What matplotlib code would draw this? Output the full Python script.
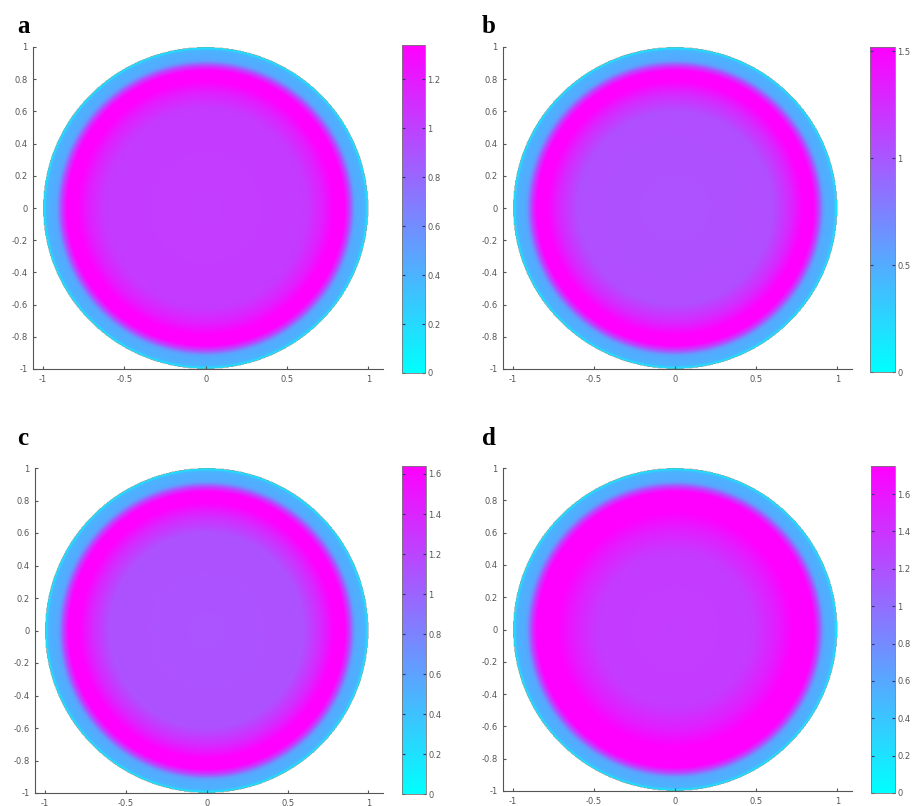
import numpy as np
import matplotlib
matplotlib.use("Agg")
import matplotlib.pyplot as plt

W, H = 917, 806

# ---- data ----
panel_labels = ["a", "b", "c", "d"]
# colour-scale maxima of each panel
vmax_vals = [1.34, 1.52, 1.64, 1.75]
# colorbar tick values of each panel
cbar_ticks = [
    [0, 0.2, 0.4, 0.6, 0.8, 1, 1.2],
    [0, 0.5, 1, 1.5],
    [0, 0.2, 0.4, 0.6, 0.8, 1, 1.2, 1.4, 1.6],
    [0, 0.2, 0.4, 0.6, 0.8, 1, 1.2, 1.4, 1.6],
]
# radial profile knots (radius) and field value as fraction of vmax
prof_r = [
    [0.0, 0.62, 0.72, 0.79, 0.855, 0.885, 0.915, 0.93, 0.98, 1.0],
    [0.0, 0.60, 0.71, 0.79, 0.855, 0.885, 0.915, 0.93, 0.98, 1.0],
    [0.0, 0.60, 0.71, 0.79, 0.855, 0.885, 0.915, 0.93, 0.98, 1.0],
    [0.0, 0.48, 0.62, 0.73, 0.855, 0.885, 0.915, 0.93, 0.98, 1.0],
]
prof_v = [
    [0.76, 0.77, 0.88, 1.00, 1.00, 0.75, 0.38, 0.33, 0.30, 0.06],
    [0.68, 0.69, 0.84, 1.00, 1.00, 0.75, 0.38, 0.33, 0.30, 0.06],
    [0.67, 0.68, 0.84, 1.00, 1.00, 0.75, 0.38, 0.33, 0.30, 0.06],
    [0.76, 0.77, 0.88, 1.00, 1.00, 0.75, 0.38, 0.33, 0.30, 0.06],
]
x_ticks = [-1, -0.5, 0, 0.5, 1]
x_ticklabels = ["-1", "-0.5", "0", "0.5", "1"]
y_ticks = [-1, -0.8, -0.6, -0.4, -0.2, 0, 0.2, 0.4, 0.6, 0.8, 1]
y_ticklabels = ["-1", "-0.8", "-0.6", "-0.4", "-0.2", "0", "0.2", "0.4", "0.6", "0.8", "1"]

# ---- layout (pixels: left, right, top, bottom) ----
ax_px = [(33, 383, 47, 369), (503, 852, 47, 369), (35, 383, 468, 793), (503, 852, 468, 791)]
cb_px = [(402, 425, 45, 373), (870, 895, 47, 372), (402, 426, 466, 794), (871, 895, 466, 793)]
lab_px = [(17, 33), (482, 33), (17, 445), (482, 445)]


def rect(p):
    l, r, t, b = p
    return [l / W, 1 - b / H, (r - l) / W, (b - t) / H]


fig = plt.figure(figsize=(W / 100, H / 100), dpi=100)
fig.patch.set_facecolor("white")

n = 500
g = np.linspace(-1.1, 1.1, n)
X, Y = np.meshgrid(g, g)
R = np.hypot(X, Y)

gray = "#555555"
for i in range(4):
    ax = fig.add_axes(rect(ax_px[i]))
    vmax = vmax_vals[i]
    Z = np.interp(R, prof_r[i], prof_v[i]) * vmax
    Z = np.ma.masked_where(R > 1.0, Z)
    im = ax.imshow(Z, extent=[-1.1, 1.1, -1.1, 1.1], origin="lower", cmap="cool",
                   vmin=0, vmax=vmax, interpolation="bilinear", aspect="auto")
    ax.set_xlim(-1.062, 1.09)
    ax.set_ylim(-1.0, 1.0)
    for s in ["top", "right"]:
        ax.spines[s].set_visible(False)
    for s in ["left", "bottom"]:
        ax.spines[s].set_color(gray)
        ax.spines[s].set_linewidth(0.8)
    ax.set_xticks(x_ticks)
    ax.set_xticklabels(x_ticklabels)
    ax.set_yticks(y_ticks)
    ax.set_yticklabels(y_ticklabels)
    ax.tick_params(direction="in", length=2.5, width=0.8, color=gray,
                   labelsize=6, labelcolor="#555555", pad=4)

    cax = fig.add_axes(rect(cb_px[i]))
    cb = fig.colorbar(im, cax=cax, ticks=cbar_ticks[i])
    cb.ax.set_yticklabels([f"{t:g}" for t in cbar_ticks[i]])
    cb.ax.tick_params(direction="in", length=2.5, width=0.8, color="#333366",
                      labelsize=6, labelcolor="#555555", pad=1.5, left=True)
    cb.outline.set_edgecolor("#777777")
    cb.outline.set_linewidth(0.6)

    fig.text(lab_px[i][0] / W, 1 - lab_px[i][1] / H, panel_labels[i],
             fontsize=18, fontweight="bold", family="Liberation Serif",
             ha="left", va="baseline")

fig.savefig("out.png", dpi=100)
